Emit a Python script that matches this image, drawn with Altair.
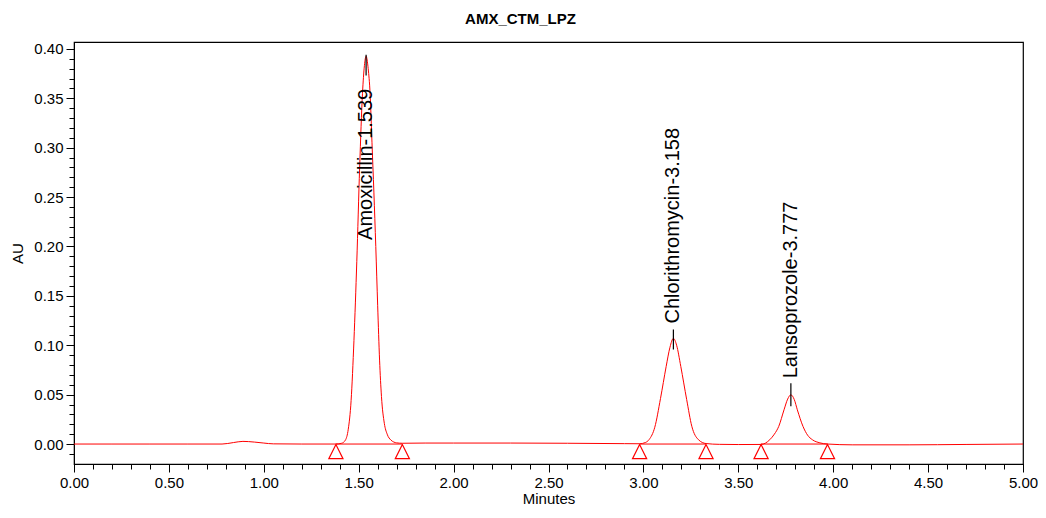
import altair as alt
import pandas as pd

FONT = "Liberation Sans"

title_text = "AMX_CTM_LPZ"
x_title = "Minutes"
y_title = "AU"

# Chromatogram trace (minutes, AU)
times = [0.00, 0.20, 0.40, 0.60, 0.78, 0.84, 0.89, 0.95, 1.00, 1.05, 1.20, 1.38,
         1.41, 1.43, 1.445, 1.46, 1.475, 1.49, 1.505, 1.52, 1.53, 1.539, 1.55, 1.56,
         1.57, 1.58, 1.59, 1.60, 1.61, 1.62, 1.635, 1.65, 1.67, 1.70, 1.73, 1.85,
         2.00, 2.30, 2.60, 2.90, 2.98, 3.01, 3.03, 3.06, 3.09, 3.12, 3.14, 3.158,
         3.175, 3.197, 3.228, 3.255, 3.29, 3.33, 3.40, 3.50, 3.62, 3.666, 3.69,
         3.713, 3.741, 3.76, 3.777, 3.795, 3.811, 3.841, 3.865, 3.89, 3.93, 3.97,
         4.10, 4.40, 4.70, 5.00]
absorb = [0.0000, 0.0000, 0.0000, 0.0000, 0.0000, 0.0015, 0.0027, 0.0020, 0.0010, 0.0002, 0.0000, 0.0000,
          0.0008, 0.0040, 0.0150, 0.0440, 0.1050, 0.1850, 0.2800, 0.3550, 0.3830, 0.3926, 0.3800, 0.3550,
          0.3050, 0.2550, 0.2000, 0.1400, 0.0850, 0.0480, 0.0210, 0.0100, 0.0040, 0.0012, 0.0008, 0.0010,
          0.0010, 0.0010, 0.0008, 0.0004, 0.0003, 0.0015, 0.0045, 0.0170, 0.0460, 0.0786, 0.0980, 0.1070,
          0.1000, 0.0786, 0.0450, 0.0180, 0.0044, 0.0005, -0.0003, -0.0005, -0.0004, 0.0044, 0.0100,
          0.0178, 0.0347, 0.0455, 0.0498, 0.0450, 0.0347, 0.0178, 0.0090, 0.0044, 0.0012, 0.0000,
          -0.0008, -0.0008, -0.0004, 0.0000]

# Peaks
peak_names = ["Amoxicillin", "Chlorithromycin", "Lansoprozole"]
peak_times = [1.539, 3.158, 3.777]
label_base = [0.2066, 0.122, 0.0665]
tick_lo = [0.373, 0.0957, 0.0383]
tick_hi = [0.394, 0.116, 0.0615]

# Integration baselines (start / end markers)
seg_start = [1.38, 2.98, 3.62]
seg_end = [1.73, 3.33, 3.97]

# Axis ticks
major_x = [0.0, 0.5, 1.0, 1.5, 2.0, 2.5, 3.0, 3.5, 4.0, 4.5, 5.0]
minor_x = [i / 10 for i in range(51)]
major_y = [0.0, 0.05, 0.10, 0.15, 0.20, 0.25, 0.30, 0.35, 0.40]
minor_y = [i / 100 for i in range(-1, 41)]

trace = pd.DataFrame({"t": times, "au": absorb})
peaks = pd.DataFrame({
    "t": peak_times,
    "label": [f"{n}-{t:.3f}" for n, t in zip(peak_names, peak_times)],
    "ly": label_base,
    "lo": tick_lo,
    "hi": tick_hi,
})
segs = pd.DataFrame({"s": seg_start, "e": seg_end, "y": [0.0] * len(seg_start)})
marks = pd.DataFrame({"t": seg_start + seg_end, "y": [0.0] * (2 * len(seg_start))})

xs = alt.Scale(domain=[0, 5], nice=False, zero=False)
ys = alt.Scale(domain=[-0.0202, 0.407], nice=False, zero=False)

common_axis = dict(domainColor="black", tickColor="black", grid=False,
                   labelColor="black", labelFont=FONT, labelFontSize=15,
                   titleFont=FONT, titleFontSize=15, titleFontWeight="normal",
                   titleColor="black", labelOverlap=False)

x_major = alt.Axis(values=major_x, format=".2f", tickSize=8, labelPadding=3,
                   labelFlush=False, title=x_title, titlePadding=1, orient="bottom",
                   **common_axis)
y_major = alt.Axis(values=major_y, format=".2f", tickSize=8, labelPadding=3,
                   title=y_title, titlePadding=8, orient="left", **common_axis)
x_minor = alt.Axis(values=minor_x, tickSize=5, labels=False, domain=False,
                   title=None, tickColor="black", grid=False, orient="bottom")
y_minor = alt.Axis(values=minor_y, tickSize=5, labels=False, domain=False,
                   title=None, tickColor="black", grid=False, orient="left")

line = alt.Chart(trace).mark_line(color="#ff0000", strokeWidth=1, interpolate="monotone").encode(
    x=alt.X("t:Q", scale=xs, axis=x_major),
    y=alt.Y("au:Q", scale=ys, axis=y_major),
)

minor = alt.Chart(trace).mark_line(opacity=0).encode(
    x=alt.X("t:Q", scale=xs, axis=x_minor),
    y=alt.Y("au:Q", scale=ys, axis=y_minor),
)

base_rules = alt.Chart(segs).mark_rule(color="#ff0000", strokeWidth=1).encode(
    x=alt.X("s:Q", scale=xs, axis=None),
    x2="e:Q",
    y=alt.Y("y:Q", scale=ys, axis=None),
)

tri = alt.Chart(marks).mark_point(
    shape="M0,-1L-1,1L1,1Z", size=200, filled=False, color="#ff0000",
    strokeWidth=1.2, yOffset=7.5, opacity=1,
).encode(
    x=alt.X("t:Q", scale=xs, axis=None),
    y=alt.Y("y:Q", scale=ys, axis=None),
)

ticks = alt.Chart(peaks).mark_rule(color="black", strokeWidth=1.2).encode(
    x=alt.X("t:Q", scale=xs, axis=None),
    y=alt.Y("lo:Q", scale=ys, axis=None),
    y2="hi:Q",
)

labels = alt.Chart(peaks).mark_text(
    angle=270, align="left", baseline="middle", font=FONT, fontSize=20, color="black",
).encode(
    x=alt.X("t:Q", scale=xs, axis=None),
    y=alt.Y("ly:Q", scale=ys, axis=None),
    text="label:N",
)

chart = alt.layer(minor, base_rules, line, tri, ticks, labels).resolve_axis(
    x="independent", y="independent"
).properties(
    width=949,
    height=422,
    padding={"left": 66, "top": 34, "right": 15, "bottom": 46},
    autosize=alt.AutoSizeParams(type="none"),
    title=alt.TitleParams(title_text, font=FONT, fontSize=15, fontWeight="bold",
                          color="black", anchor="middle", dx=-28, offset=15),
).configure_view(stroke="black", strokeWidth=1.2)

chart.save("out.html", embed_options={"renderer": "svg", "actions": False})
